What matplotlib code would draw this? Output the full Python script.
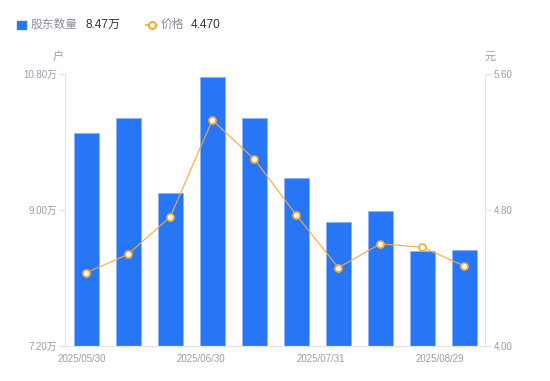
import matplotlib.pyplot as plt
import numpy as np

plt.rcParams['font.family'] = ['Liberation Sans', 'Noto Sans CJK SC', 'DejaVu Sans']

dates = ["2025/05/30", "2025/06/10", "2025/06/20", "2025/06/30", "2025/07/10",
         "2025/07/20", "2025/07/31", "2025/08/08", "2025/08/20", "2025/08/29"]
holders = [10.02, 10.22, 9.23, 10.76, 10.22, 9.42, 8.84, 8.99, 8.46, 8.47]  # 万户
price = [4.43, 4.54, 4.76, 5.33, 5.10, 4.77, 4.46, 4.60, 4.58, 4.47]
shown_dates = ["2025/05/30", "2025/06/30", "2025/07/31", "2025/08/29"]

blue = "#2776f5"
orange = "#f7ac35"
grey_txt = "#9a9cab"
axis_col = "#e3e4ea"

fig = plt.figure(figsize=(5.5, 3.81), dpi=100)
ax = fig.add_axes([0.1187, 0.0927, 0.7637, 0.7123])
ax2 = ax.twinx()

x = np.arange(len(dates))
ax.bar(x, holders, width=0.6, color=blue, edgecolor="#8db4f9", linewidth=0.6, zorder=2)
ax.set_xlim(-0.5, len(dates) - 0.5)
ax.set_ylim(7.2, 10.8)
ax.set_yticks([7.2, 9.0, 10.8])
ax.set_yticklabels(["7.20万", "9.00万", "10.80万"])

ax2.plot(x, price, color=orange, linewidth=0.8, marker="o", markersize=5,
         markerfacecolor="white", markeredgecolor=orange, markeredgewidth=1.3, zorder=3)
ax2.set_ylim(4.0, 5.6)
ax2.set_yticks([4.0, 4.8, 5.6])
ax2.set_yticklabels(["4.00", "4.80", "5.60"])

# x labels spread evenly under the axis
ax.set_xticks(np.linspace(-0.11, 8.42, len(shown_dates)))
ax.set_xticklabels(shown_dates)

for a in (ax, ax2):
    for s in a.spines.values():
        s.set_color(axis_col)
    a.spines["top"].set_visible(False)
ax.spines["right"].set_visible(False)
ax2.spines["left"].set_visible(False)

ax.tick_params(axis="y", colors=axis_col, labelcolor=grey_txt, labelsize=7, length=4, pad=2)
ax2.tick_params(axis="y", colors=axis_col, labelcolor=grey_txt, labelsize=7, length=4, pad=2)
ax.tick_params(axis="x", length=0, labelcolor=grey_txt, labelsize=7, pad=6)

fig.text(58 / 550, 1 - 57 / 381, "户", color=grey_txt, fontsize=8, ha="center", va="center")
fig.text(490 / 550, 1 - 57 / 381, "元", color=grey_txt, fontsize=8, ha="center", va="center")

# legend drawn by hand
fig.patches.append(plt.Rectangle((16.7 / 550, 1 - 29 / 381), 9 / 550, 8 / 381,
                                 transform=fig.transFigure, color=blue))
fig.text(31 / 550, 1 - 25 / 381, "股东数量", color="#8c8e9c", fontsize=8.5, va="center")
fig.text(85 / 550, 1 - 25 / 381, "%.2f万" % holders[-1], color="#333333", fontsize=8.5, va="center")
fig.lines.append(plt.Line2D([146 / 550, 157 / 550], [1 - 24.5 / 381] * 2, transform=fig.transFigure,
                            color=orange, linewidth=1.2))
fig.lines.append(plt.Line2D([151.5 / 550], [1 - 24.5 / 381], transform=fig.transFigure,
                            color=orange, marker="o", markersize=5, markerfacecolor="white",
                            markeredgecolor=orange, markeredgewidth=1.5))
fig.text(161 / 550, 1 - 25 / 381, "价格", color="#8c8e9c", fontsize=8.5, va="center")
fig.text(191 / 550, 1 - 25 / 381, "%.3f" % price[-1], color="#333333", fontsize=8.5, va="center")

fig.savefig("out.png", dpi=100)
